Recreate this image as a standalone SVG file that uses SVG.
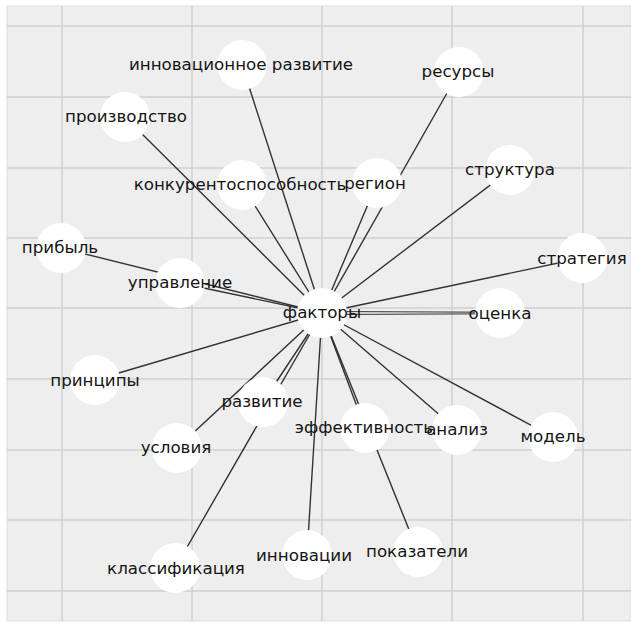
<svg xmlns="http://www.w3.org/2000/svg" width="631" height="623" viewBox="0 0 631 623">
  <style>
    .panel { fill: #eeeeee; stroke: #dddddd; stroke-width: 1; }
    .grid line { stroke: #cfcfcf; stroke-width: 1.4; }
    .edges line { stroke: #333333; stroke-width: 1.4; stroke-linecap: round; }
    .edges line.thin { stroke-width: 1.1; }
    .node circle { fill: #ffffff; }
    .node text { font-family: "DejaVu Sans", "Noto Sans", sans-serif; font-size: 16.7px; fill: #151515; text-anchor: middle; }
  </style>

  <rect width="631" height="623" fill="#ffffff"/>
  <rect class="panel" x="7" y="6" width="624" height="615"/>

  <!-- background grid -->
  <g class="grid">
    <line x1="62" y1="6" x2="62" y2="621"/>
    <line x1="192" y1="6" x2="192" y2="621"/>
    <line x1="322" y1="6" x2="322" y2="621"/>
    <line x1="452" y1="6" x2="452" y2="621"/>
    <line x1="583" y1="6" x2="583" y2="621"/>
    <line x1="7" y1="26" x2="631" y2="26"/>
    <line x1="7" y1="97" x2="631" y2="97"/>
    <line x1="7" y1="168" x2="631" y2="168"/>
    <line x1="7" y1="238" x2="631" y2="238"/>
    <line x1="7" y1="308" x2="631" y2="308"/>
    <line x1="7" y1="379" x2="631" y2="379"/>
    <line x1="7" y1="450" x2="631" y2="450"/>
    <line x1="7" y1="520" x2="631" y2="520"/>
    <line x1="7" y1="591" x2="631" y2="591"/>
  </g>

  <!-- connectors: every term links to the hub -->
  <g class="edges">
    <line x1="322" y1="313" x2="242" y2="65"/>
    <line x1="322" y1="313" x2="125" y2="117"/>
    <line x1="322" y1="313" x2="242" y2="185"/>
    <line x1="322" y1="313" x2="459" y2="72"/>
    <line x1="322" y1="313" x2="377" y2="183"/>
    <line x1="322" y1="313" x2="510" y2="170"/>
    <line x1="322" y1="313" x2="61" y2="248"/>
    <line x1="322" y1="313" x2="180" y2="283"/>
    <line x1="322" y1="313" x2="95" y2="380"/>
    <line x1="322" y1="313" x2="263" y2="402"/>
    <line x1="322" y1="313" x2="582" y2="258"/>
    <line class="thin" x1="322" y1="311.5" x2="500" y2="312.3"/>
    <line class="thin" x1="322" y1="314.5" x2="500" y2="313.7"/>
    <line x1="322" y1="313" x2="365" y2="428"/>
    <line x1="322" y1="313" x2="457" y2="430"/>
    <line x1="322" y1="313" x2="553" y2="437"/>
    <line x1="322" y1="313" x2="418" y2="552"/>
    <line x1="322" y1="313" x2="307" y2="555"/>
    <line x1="322" y1="313" x2="175" y2="568"/>
    <line x1="322" y1="313" x2="177" y2="448"/>
  </g>

  <g id="node-innov-razvitie" class="node"><circle cx="242" cy="65" r="25"/><text x="241" y="70">инновационное развитие</text></g>
  <g id="node-proizvodstvo" class="node"><circle cx="125" cy="117" r="25"/><text x="126" y="122">производство</text></g>
  <g id="node-konkurent" class="node"><circle cx="242" cy="185" r="25"/><text x="240" y="190">конкурентоспособность</text></g>
  <g id="node-resursy" class="node"><circle cx="459" cy="72" r="25"/><text x="458" y="77">ресурсы</text></g>
  <g id="node-region" class="node"><circle cx="377" cy="183" r="25"/><text x="375" y="189">регион</text></g>
  <g id="node-struktura" class="node"><circle cx="510" cy="170" r="25"/><text x="510" y="175">структура</text></g>
  <g id="node-pribyl" class="node"><circle cx="61" cy="248" r="25"/><text x="60" y="253">прибыль</text></g>
  <g id="node-upravlenie" class="node"><circle cx="180" cy="283" r="25"/><text x="180" y="288">управление</text></g>
  <g id="node-faktory" class="node"><circle cx="322" cy="313" r="25"/><text x="322" y="318">факторы</text></g>
  <g id="node-principy" class="node"><circle cx="95" cy="380" r="25"/><text x="95" y="386">принципы</text></g>
  <g id="node-razvitie" class="node"><circle cx="263" cy="402" r="25"/><text x="262" y="407">развитие</text></g>
  <g id="node-strategiya" class="node"><circle cx="582" cy="258" r="25"/><text x="582" y="264">стратегия</text></g>
  <g id="node-ocenka" class="node"><circle cx="500" cy="313" r="25"/><text x="500" y="319">оценка</text></g>
  <g id="node-effektivnost" class="node"><circle cx="365" cy="428" r="25"/><text x="364" y="433">эффективность</text></g>
  <g id="node-analiz" class="node"><circle cx="457" cy="430" r="25"/><text x="457" y="435">анализ</text></g>
  <g id="node-model" class="node"><circle cx="553" cy="437" r="25"/><text x="553" y="442">модель</text></g>
  <g id="node-uslovia" class="node"><circle cx="177" cy="448" r="25"/><text x="176" y="453">условия</text></g>
  <g id="node-pokazateli" class="node"><circle cx="418" cy="552" r="25"/><text x="417" y="557">показатели</text></g>
  <g id="node-innovacii" class="node"><circle cx="307" cy="555" r="25"/><text x="304" y="561">инновации</text></g>
  <g id="node-klassifikaciya" class="node"><circle cx="175" cy="568" r="25"/><text x="176" y="574">классификация</text></g>
</svg>
